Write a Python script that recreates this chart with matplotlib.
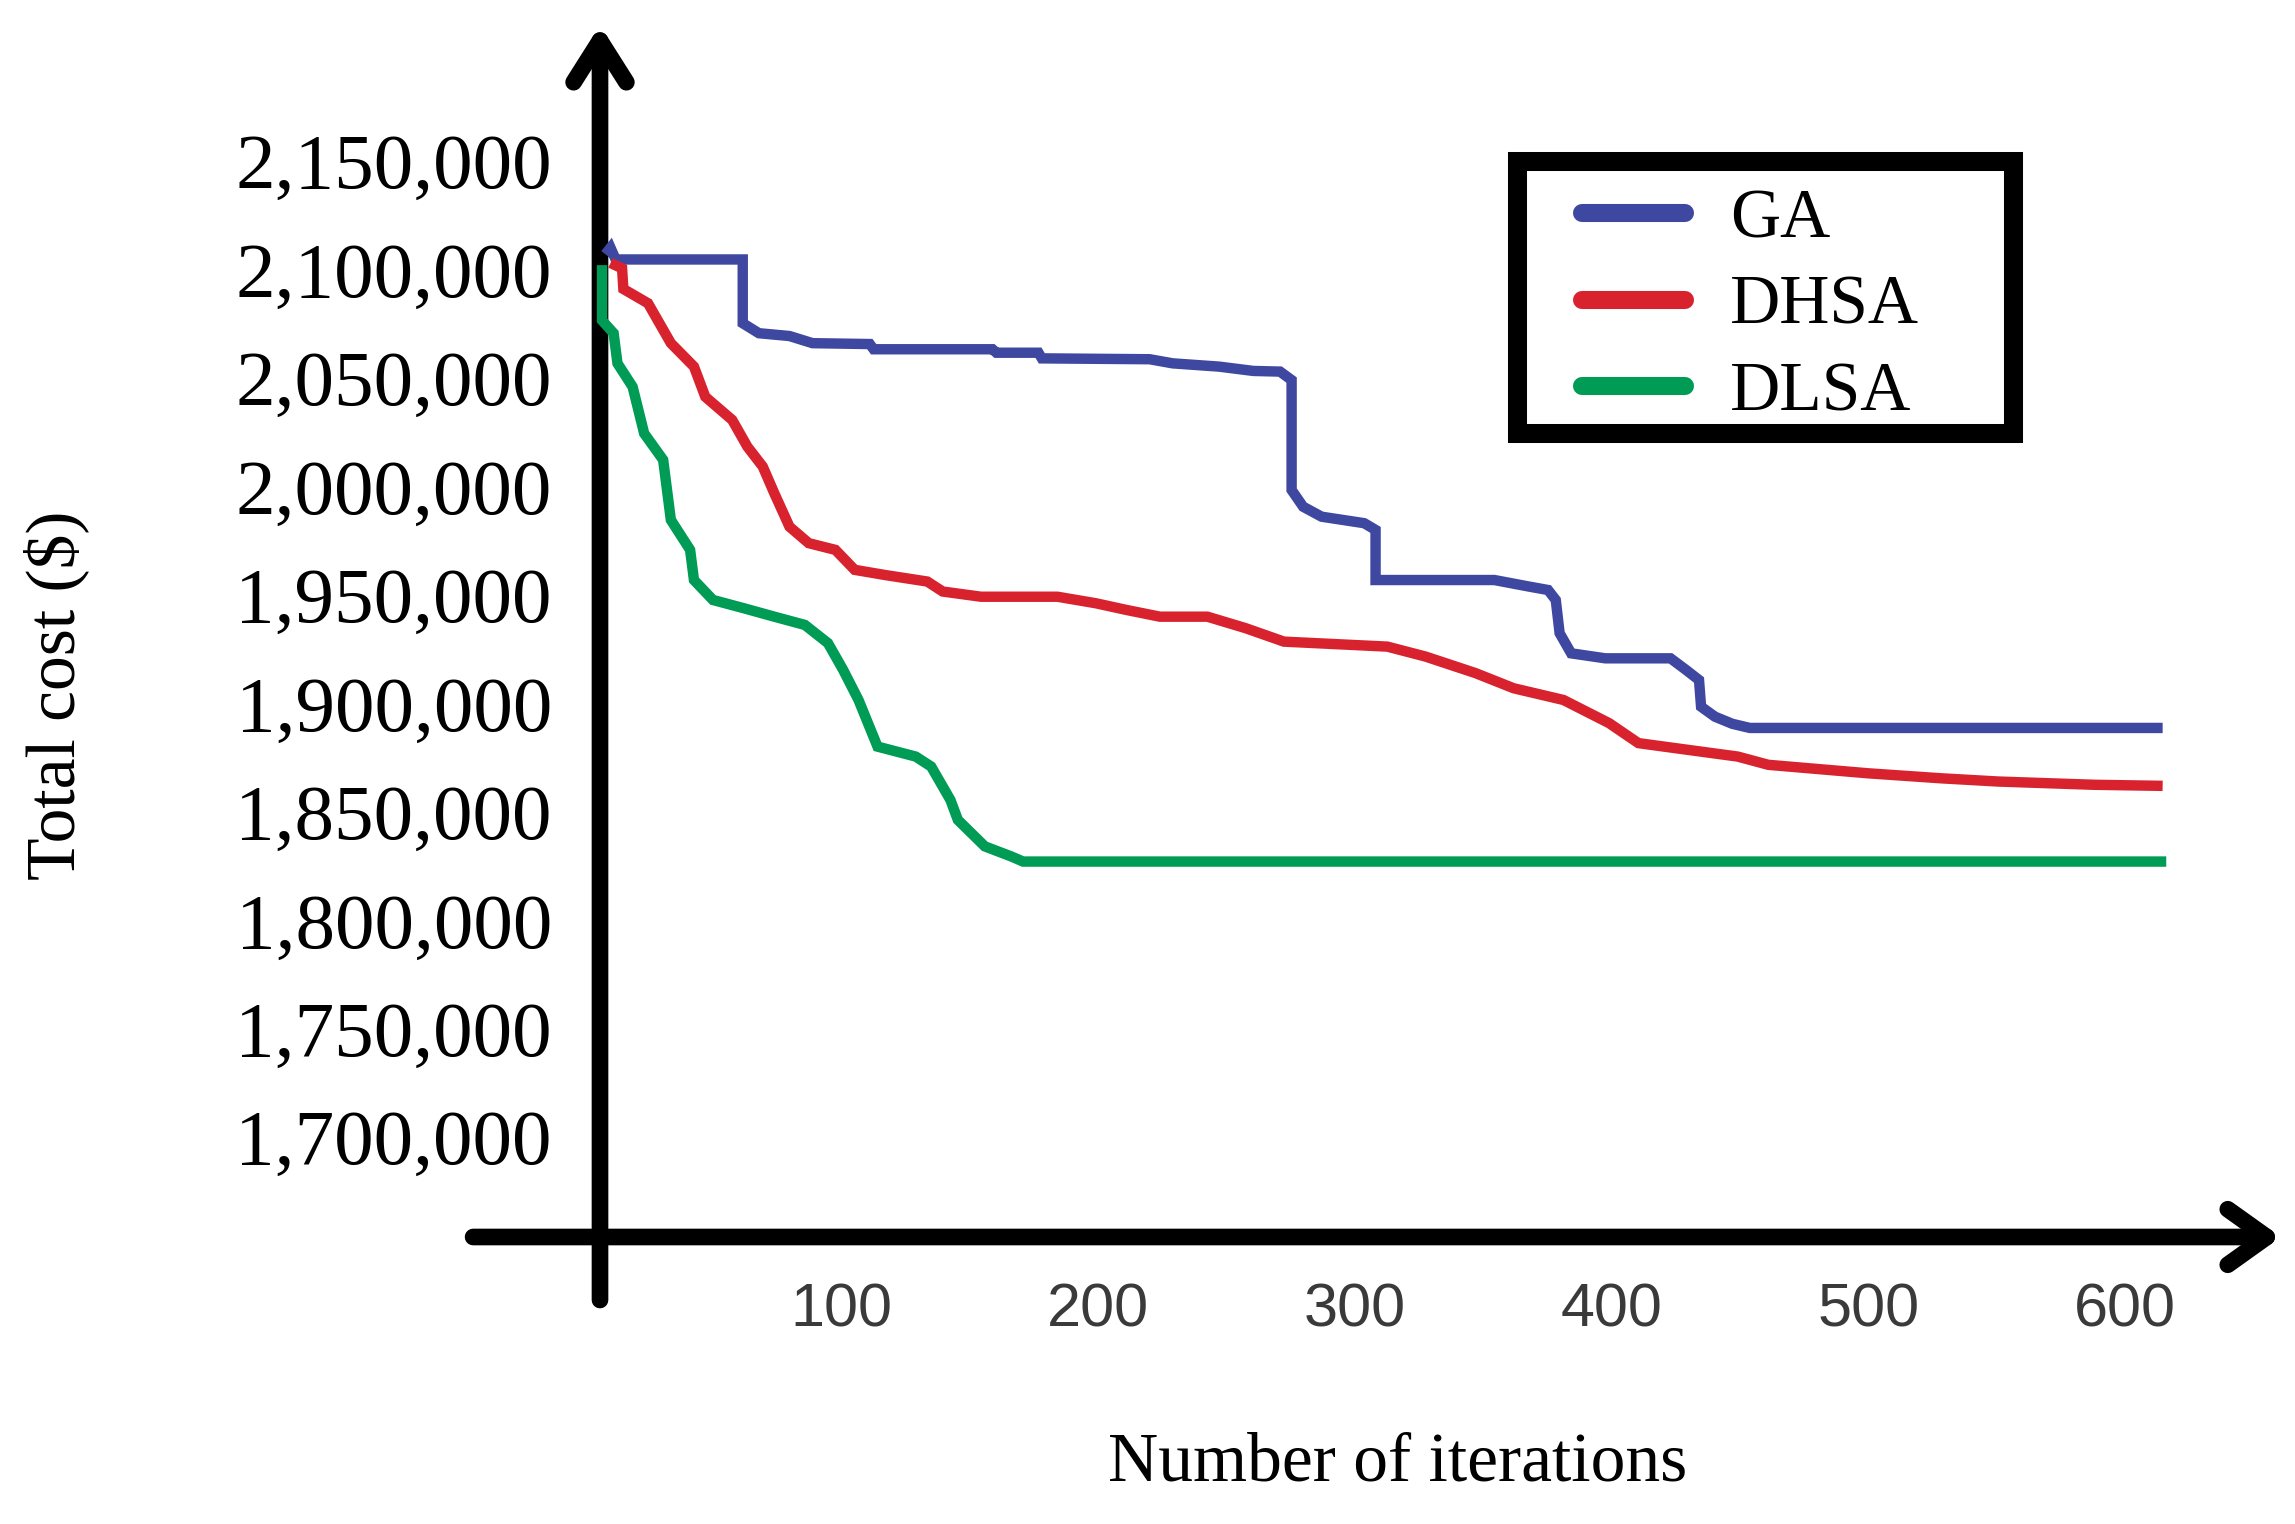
import matplotlib
matplotlib.use("Agg")
import matplotlib.pyplot as plt
from matplotlib.lines import Line2D
from matplotlib.patches import Rectangle

# ---------------- data ----------------
ga_x = [8, 10, 12, 61.5, 61.5, 67.8, 79.7, 88.7, 111, 112.5, 158.8, 160.3, 176.7, 178,
        220, 229, 247, 260.4, 270.8, 275.3, 275.3, 279.8, 287, 303.6, 308, 308, 354.3,
        367.7, 375.2, 378.2, 379.7, 384.2, 397.5, 422.9, 428.9, 434, 434.8, 440.2, 447,
        453.8, 614.6]
ga_y = [2107000, 2110000, 2104600, 2104600, 2075200, 2070600, 2069300, 2066000, 2065600,
        2063200, 2063200, 2061600, 2061600, 2059000, 2058600, 2056700, 2055200, 2053200,
        2052900, 2049000, 1998300, 1990600, 1986000, 1983000, 1979900, 1956800, 1956800,
        1953800, 1952200, 1947600, 1932300, 1923000, 1920700, 1920700, 1915400, 1910700,
        1898400, 1893800, 1890500, 1888600, 1888600]

dhsa_x = [10, 14.5, 15, 24.6, 33.5, 42.5, 46.9, 57.4, 63.3, 69.3, 73.8, 79.7, 87.2, 97.6,
          105.1, 117, 133.4, 139.4, 154.3, 184.1, 199, 211, 224, 242.5, 257.4, 272.3,
          312.6, 327.5, 346.9, 361.8, 381.2, 399, 410.4, 429.7, 449.1, 461, 499.8, 528.1,
          550.5, 587.8, 614.6]
dhsa_y = [2103000, 2100500, 2091000, 2084400, 2066000, 2055200, 2041300, 2030600, 2018300,
          2009100, 1996800, 1981400, 1973800, 1970700, 1961500, 1959100, 1956100, 1951500,
          1949100, 1949100, 1946100, 1943000, 1939900, 1939900, 1934600, 1928400, 1926100,
          1921500, 1913900, 1906900, 1901500, 1890800, 1881600, 1878500, 1875400, 1871600,
          1867700, 1865400, 1863900, 1862400, 1861900]

dlsa_x = [6.7, 6.7, 11.2, 12.7, 18.6, 23.1, 30.5, 33.5, 41, 42.5, 49.9, 61.9, 73.8, 85.7,
          94.7, 100.6, 106.6, 114, 128.9, 134.9, 142.4, 145.3, 155.8, 166.2, 170.7, 616]
dlsa_y = [2102000, 2076500, 2070600, 2056700, 2045900, 2024400, 2012200, 1984500, 1970700,
          1956800, 1947600, 1943800, 1939900, 1936100, 1927700, 1915400, 1901500, 1880000,
          1875400, 1870800, 1855400, 1846200, 1834000, 1829300, 1827000, 1827000]

series_names = ["GA", "DHSA", "DLSA"]
series_colors = ["#3F48A0", "#D8232F", "#009B55"]

y_ticks = [1700000, 1750000, 1800000, 1850000, 1900000, 1950000,
           2000000, 2050000, 2100000, 2150000]
x_ticks = [100, 200, 300, 400, 500, 600]

# ---------------- figure ----------------
W, H = 2295, 1524
fig = plt.figure(figsize=(W / 100, H / 100), dpi=100)
fig.patch.set_facecolor("white")

ax_left, ax_right, ax_top, ax_bottom = 600, 2281, 25, 1237
ax = fig.add_axes([ax_left / W, 1 - ax_bottom / H,
                   (ax_right - ax_left) / W, (ax_bottom - ax_top) / H])
ax.set_xlim(5.9, 660.7)
ax.set_ylim(1653900, 2212700)
for s in ax.spines.values():
    s.set_visible(False)

serif = ["Liberation Serif", "DejaVu Serif"]
sans = ["Liberation Sans", "DejaVu Sans"]

# axes arrows
axis_lw = 12
ax.annotate("", xy=(1.0, 0.0), xytext=(-0.0755, 0.0),
            xycoords="axes fraction", textcoords="axes fraction",
            annotation_clip=False, zorder=3,
            arrowprops=dict(arrowstyle="->,head_length=2.8,head_width=2.0",
                            lw=axis_lw, color="black", shrinkA=0, shrinkB=0,
                            mutation_scale=10, capstyle="round"))
ax.annotate("", xy=(0.0, 1.0), xytext=(0.0, -0.052),
            xycoords="axes fraction", textcoords="axes fraction",
            annotation_clip=False, zorder=3,
            arrowprops=dict(arrowstyle="->,head_length=3.0,head_width=1.9",
                            lw=axis_lw, color="black", shrinkA=0, shrinkB=0,
                            mutation_scale=10, capstyle="round"))

# data lines
for xs, ys, c in zip([ga_x, dhsa_x, dlsa_x], [ga_y, dhsa_y, dlsa_y], series_colors):
    ax.plot(xs, ys, color=c, lw=7.5, solid_joinstyle="miter",
            solid_capstyle="butt", zorder=4, clip_on=False)

# ticks
ax.set_yticks(y_ticks)
ax.set_yticklabels([f"{v:,}" for v in y_ticks], fontfamily=serif, fontsize=57)
ax.set_xticks(x_ticks)
ax.set_xticklabels([str(v) for v in x_ticks], fontfamily=sans, fontsize=44,
                   color="#3a3a3a")
ax.tick_params(axis="y", length=0, pad=34.6)
ax.tick_params(axis="x", length=0, pad=33)

# axis labels
fig.text(1398 / W, 1 - 1464 / H, "Number of iterations", fontfamily=serif,
         fontsize=50, ha="center", va="center")
fig.text(56 / W, 1 - 695 / H, "Total cost ($)", fontfamily=serif,
         fontsize=50, ha="center", va="center", rotation=90)

# legend
handles = [Line2D([], [], color=c, lw=13, solid_capstyle="round") for c in series_colors]
fig.legend(handles, series_names, loc="center left",
           bbox_to_anchor=(1582 / W, 1 - 307 / H), frameon=False,
           prop={"family": serif, "size": 50}, handlelength=1.48,
           handletextpad=0.65, labelspacing=0.33, borderpad=0, borderaxespad=0)
fig.patches.append(Rectangle((1516.5 / W, 1 - 432.5 / H), 497 / W, 272 / H,
                             transform=fig.transFigure, fill=False,
                             edgecolor="black", lw=13.7, joinstyle="miter"))

fig.savefig("out.png", dpi=100, facecolor="white")
